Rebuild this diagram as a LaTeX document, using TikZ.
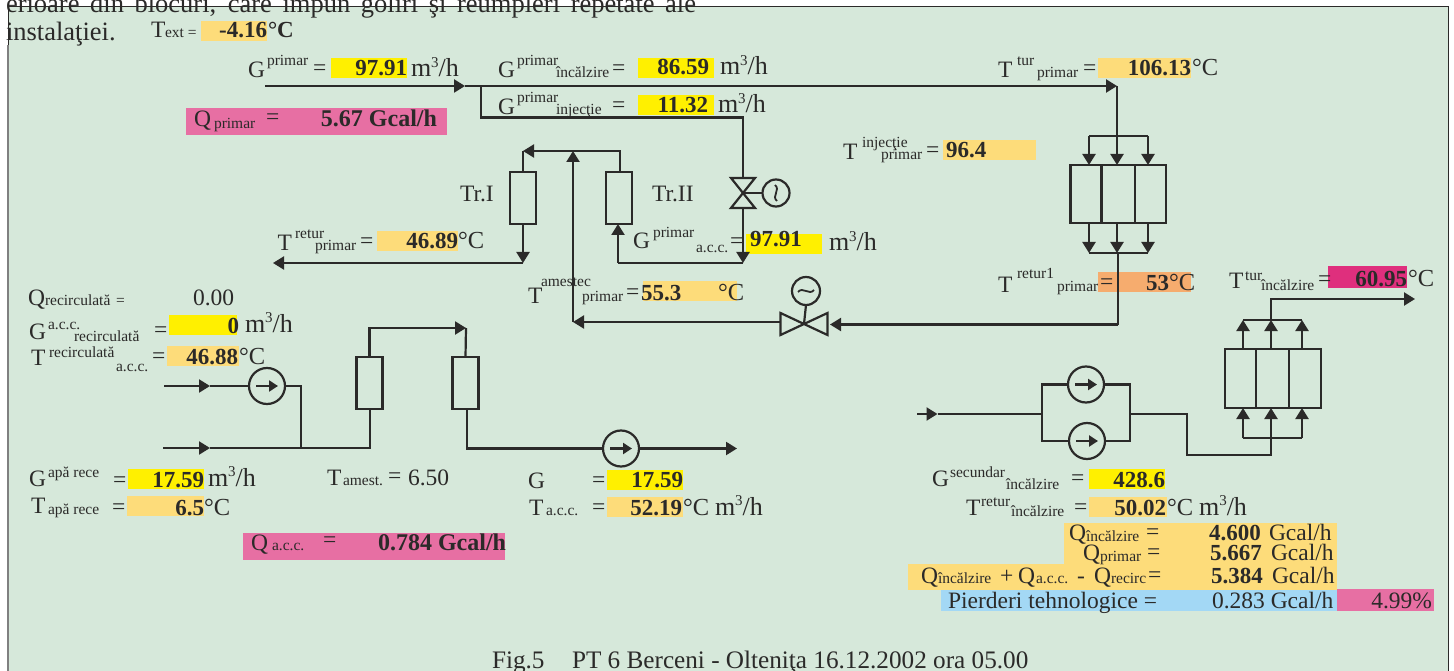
\documentclass[tikz,border=0pt]{standalone}
\usepackage{fontspec}
\setmainfont{Liberation Serif}
\usetikzlibrary{arrows.meta,calc}
\definecolor{bgg}{HTML}{D6E8DA}
\definecolor{ink}{HTML}{2B2A29}
\definecolor{yel}{HTML}{FFF000}
\definecolor{ora}{HTML}{FDDC7A}
\definecolor{pnk}{HTML}{E76FA3}
\definecolor{mag}{HTML}{DF2F7D}
\definecolor{sal}{HTML}{F6AC6E}
\definecolor{blu}{HTML}{A3D8F5}
\newcount\lc
\newcommand\lbl[4]{\global\advance\lc by 1 \node[#1] (t\the\lc) at (#2,#3) {#4};}
\newcommand\tm[3]{\lbl{tmain}{#1}{#2}{#3}}
\newcommand\ts[3]{\lbl{tsub}{#1}{#2}{#3}}
\newcommand\tv[3]{\lbl{tval}{#1}{#2}{#3}}
\newcommand\tl[3]{\lbl{tvall}{#1}{#2}{#3}}
\newcommand\hl[5]{\fill[#1] (#2,#3) rectangle (#4,#5);}
\newcommand\mch{{\fontsize{26}{28}\selectfont m\raisebox{9.5pt}{\fontsize{15}{15}\selectfont 3}/h}}
\newcommand\dg{{\fontsize{24.5}{26}\selectfont °C}}
\tikzset{
  lab/.style={inner sep=0pt,outer sep=0pt,text=ink},
  tmain/.style={lab,anchor=base west,font=\fontsize{23.5}{26}\selectfont},
  tsub/.style={lab,anchor=base west,font=\fontsize{15.5}{18}\selectfont},
  tval/.style={lab,anchor=base east,font=\fontsize{23}{26}\selectfont\bfseries},
  tvall/.style={lab,anchor=base west,font=\fontsize{23}{26}\selectfont\bfseries},
  pipe/.style={draw=ink,line width=2.2pt},
  arr/.style={pipe,-{Triangle[length=11pt,width=13pt]}},
  cell/.style={draw=ink,line width=2.2pt,inner sep=0pt,outer sep=0pt},
  pump/.style={circle,draw=ink,line width=2.2pt,inner sep=0pt,outer sep=0pt,minimum size=36pt},
  dial/.style={circle,draw=ink,line width=2.2pt,inner sep=0pt,outer sep=0pt,minimum size=27pt},
  gate/.style={inner sep=0pt,outer sep=0pt},
  inarrow/.style={draw=ink,line width=2.2pt,-{Triangle[length=9pt,width=11pt]}}
}
\begin{document}
\begin{tikzpicture}[x=1pt,y=-1pt]
\useasboundingbox (0,0) rectangle (1454,671);
% background and frame
\fill[bgg] (8,7) rectangle (1448,671);
\draw[draw=ink,line width=1pt] (8,671) -- (8,6.5) -- (1448,6.5) -- (1448,671);
\draw[draw=gray,line width=1.2pt] (8,45) -- (8,671);
% highlights
\hl{ora}{201}{21}{267}{41}
\hl{yel}{331}{58}{407}{78}
\hl{pnk}{186}{108}{447}{135}
\hl{yel}{638}{58}{714}{78}
\hl{yel}{638}{95}{714}{115}
\hl{ora}{943}{140}{1036}{160}
\hl{ora}{1098}{58}{1191}{78}
\hl{sal}{1098}{272}{1191}{292}
\hl{mag}{1328}{266}{1407}{288}
\hl{ora}{377}{231}{458}{251}
\hl{yel}{746}{234}{822}{254}
\hl{ora}{643}{281}{737}{301}
\hl{yel}{169}{315}{237}{335}
\hl{ora}{167}{346}{239}{366}
\hl{yel}{128}{469}{204}{489}
\hl{ora}{127}{496}{204}{516}
\hl{pnk}{243}{533}{505}{560}
\hl{yel}{607}{470}{683}{490}
\hl{ora}{607}{497}{683}{517}
\hl{yel}{1089}{469}{1165}{489}
\hl{ora}{1089}{497}{1167}{517}
\hl{ora}{1064}{523}{1337}{564}
\hl{ora}{908}{564}{1337}{590}
\hl{blu}{941}{590}{1337}{611}
\hl{pnk}{1337}{589}{1434}{611}
% components
\node[cell,minimum width=26pt,minimum height=52pt] (trI) at (523,198) {};
\node[cell,minimum width=26pt,minimum height=52pt] (trII) at (619,198) {};
\node[cell,minimum width=26pt,minimum height=52pt] (sa) at (369.5,383) {};
\node[cell,minimum width=26pt,minimum height=52pt] (sb) at (465.5,383) {};
\node[cell,minimum width=31pt,minimum height=58pt] (ha) at (1086,194) {};
\node[cell,minimum width=33.4pt,minimum height=58pt] (hb) at (1118.3,194) {};
\node[cell,minimum width=31pt,minimum height=58pt] (hc) at (1150.5,194) {};
\node[cell,minimum width=31pt,minimum height=59pt] (ka) at (1240.5,378.5) {};
\node[cell,minimum width=33pt,minimum height=59pt] (kb) at (1272.5,378.5) {};
\node[cell,minimum width=31.6pt,minimum height=59pt] (kc) at (1304.8,378.5) {};
\node[pump] (p1) at (267,386) {};
\node[pump] (p2) at (621,448.5) {};
\node[pump] (p3) at (1086,384.5) {};
\node[pump] (p4) at (1087,441) {};
\foreach \p in {p1,p2,p3,p4}{\draw[inarrow] ($(\p)+(-11,0)$) -- ($(\p)+(11,0)$);}
\node[gate,minimum width=24pt,minimum height=30pt] (v1) at (743,193) {};
\draw[pipe] (v1.north west) -- (v1.north east) -- (v1.south west) -- (v1.south east) -- cycle;
\node[dial] (d1) at (776,193) {};
\draw[pipe] (v1.center) -- (d1.west);
\draw[draw=ink,line width=1.8pt] ($(d1)+(-1,-8)$) .. controls ($(d1)+(5,-3)$) and ($(d1)+(-5,3)$) .. ($(d1)+(1,8)$);
\node[gate,minimum width=47pt,minimum height=22pt] (v2) at (804,324) {};
\draw[pipe] (v2.north west) -- (v2.south east) -- (v2.north east) -- (v2.south west) -- cycle;
\node[dial,minimum size=28pt] (d2) at (806,291) {};
\draw[pipe] (d2.south) -- (v2.center);
\draw[draw=ink,line width=1.8pt] ($(d2)+(-8,1)$) .. controls ($(d2)+(-3,-5)$) and ($(d2)+(3,5)$) .. ($(d2)+(8,-1)$);
% junction coordinates
\coordinate (in1) at (265,86);
\coordinate (m1) at (465,86);
\coordinate (j1) at (481,86);
\coordinate (tt) at (1117,86);
\coordinate (j2) at (481,117.5);
\coordinate (c1) at (743,117.5);
\coordinate (c2) at (743,263);
\coordinate (c3) at (618,263);
\coordinate (c4) at (620,151);
\coordinate (c5) at (573,151);
\coordinate (c6) at (523,151);
\coordinate (c7) at (523,263);
\coordinate (c8) at (273,263);
\coordinate (c9) at (573,322);
\coordinate (b1) at (1117,136);
\coordinate (b1l) at (1089,136);
\coordinate (b1r) at (1148,136);
\coordinate (r1) at (1118,253);
\coordinate (r1l) at (1089,253);
\coordinate (r1r) at (1148,253);
\coordinate (r2) at (1118,324.5);
\coordinate (r3) at (830,324.5);
\coordinate (k1) at (1271,320);
\coordinate (k1l) at (1243,320);
\coordinate (k1r) at (1302,320);
\coordinate (k2) at (1271,299);
\coordinate (k3) at (1415,299);
\coordinate (q1) at (1271,438);
\coordinate (q1l) at (1243,438);
\coordinate (q1r) at (1302,438);
\coordinate (q2) at (1271,455);
\coordinate (q3) at (1187,455);
\coordinate (q4) at (1187,414);
\coordinate (q5) at (1130,414);
\coordinate (w0) at (917,414);
\coordinate (w1) at (937.5,414);
\coordinate (w2) at (1042,414);
\coordinate (w3) at (1042,384.5);
\coordinate (w4) at (1042,441);
\coordinate (w5) at (1130,384.5);
\coordinate (w6) at (1130,441);
\coordinate (l0) at (164,386);
\coordinate (l1) at (210,386);
\coordinate (l2) at (301,386);
\coordinate (l3) at (301,448);
\coordinate (l4) at (163,448);
\coordinate (l5) at (210,448);
\coordinate (l6) at (370,448);
\coordinate (l7) at (369.5,328);
\coordinate (l8) at (466,328);
\coordinate (l9) at (467,448.5);
\coordinate (l10) at (737,448.5);
% primary connectors
\draw[arr] (in1) -- (m1);
\draw[pipe] (m1) -- (j1);
\draw[arr] (j1) -- (tt);
\draw[pipe] (j1) -- (j2) -- (c1) -- (v1.north);
\draw[pipe] (tt) -- (b1);
\draw[pipe] (b1l) -- (b1r);
\draw[arr] (b1l) -- (b1l |- ha.north);
\draw[arr] (b1) -- (b1 |- hb.north);
\draw[arr] (b1r) -- (b1r |- hc.north);
\draw[arr] (b1l |- ha.south) -- (r1l);
\draw[arr] (b1 |- hb.south) -- (b1 |- r1);
\draw[arr] (b1r |- hc.south) -- (r1r);
\draw[pipe] (r1l) -- (r1r);
\draw[pipe] (r1) -- (r2);
\draw[arr] (r2) -- (r3);
\draw[arr] (v2.west |- c9) -- (c9);
\draw[arr] (c9) -- (c5);
\draw[arr] (v1.south) -- (c2);
\draw[pipe] (c2) -- (c3);
\draw[arr] (c3) -- (c3 |- trII.south);
\draw[arr] (c4 |- trII.north) -- (c4) -- (c6);
\draw[pipe] (c6) -- (trI.north);
\draw[arr] (trI.south) -- (c7);
\draw[arr] (c7) -- (c8);
% secondary connectors
\draw[arr] (k1) -- (k2) -- (k3);
\draw[pipe] (k1l) -- (k1r);
\draw[arr] (k1l |- ka.north) -- (k1l);
\draw[arr] (k1 |- kb.north) -- (k1);
\draw[arr] (k1r |- kc.north) -- (k1r);
\draw[arr] (q1l) -- (q1l |- ka.south);
\draw[arr] (q1) -- (q1 |- kb.south);
\draw[arr] (q1r) -- (q1r |- kc.south);
\draw[pipe] (q1l) -- (q1r);
\draw[pipe] (q5) -- (q4) -- (q3) -- (q2) -- (q1);
\draw[arr] (w0) -- (w1);
\draw[pipe] (w1) -- (w2);
\draw[pipe] (p3.west) -- (w3) -- (w4) -- (p4.west);
\draw[pipe] (p3.east) -- (w5) -- (w6) -- (p4.east);
% left connectors
\draw[arr] (l0) -- (l1);
\draw[pipe] (l1) -- (p1.west);
\draw[pipe] (p1.east) -- (l2) -- (l3);
\draw[arr] (l4) -- (l5);
\draw[pipe] (l5) -- (l6) -- (l6 |- sa.south);
\draw[arr] (sa.north) -- (l7) -- (l8);
\draw[pipe] (l8) -- (sb.north);
\draw[pipe] (sb.south -| l9) -- (l9) -- (p2.west);
\draw[arr] (p2.east) -- (l10);
% labels
\node[lab,anchor=base west,font=\fontsize{26.5}{30}\selectfont] (top1) at (6,12.5) {\makebox[690pt][s]{erioare din blocuri, care impun goliri şi reumpleri repetate ale}};
\node[lab,anchor=base west,font=\fontsize{26.5}{30}\selectfont] (top2) at (6,41) {instalaţiei.};
\tm{151}{38}{T}\ts{165}{38}{ext =}\tv{267}{38}{-4.16}\tl{268}{38}{°C}
\tm{248}{78}{G}\ts{267}{66}{primar}\tm{313}{76}{=}\tv{407}{76}{97.91}\tm{411}{77}{\mch}
\tm{194}{127}{Q}\ts{214}{129}{primar}\tm{266}{125}{=}\lbl{tval,font=\fontsize{24}{26}\selectfont\bfseries}{437}{127}{5.67 Gcal/h}
\tm{498}{78}{G}\ts{517}{66}{primar}\ts{556}{78}{încălzire}\tm{612}{76}{=}\tv{709}{75}{86.59}\tm{720}{75}{\mch}
\tm{498}{115}{G}\ts{517}{103}{primar}\ts{556}{115}{injecţie}\tm{612}{113}{=}\tv{708}{113}{11.32}\tm{718}{113}{\mch}
\tm{843}{160}{T}\ts{862}{148}{injecţie}\ts{881}{160}{primar}\tm{926}{158}{=}\tl{946}{158}{96.4}
\tm{460}{202}{Tr.I}\tm{652}{202}{Tr.II}
\tm{633}{249}{G}\ts{653}{237}{primar}\ts{696}{253}{a.c.c.}\tm{730}{248}{=}\tl{750}{247}{97.91}\tm{829}{251}{\mch}
\tm{528}{303}{T}\ts{541}{287}{amestec}\ts{582}{301}{primar}\tm{626}{299}{=}\tl{641}{300}{55.3}\tm{718}{300}{\dg}
\tm{277.5}{251}{T}\ts{295}{239}{retur}\ts{315}{251}{primar}\tm{360}{249}{=}\tv{458}{249}{46.89}\tm{458}{249}{\dg}
\tm{998}{78}{T}\ts{1017}{66}{tur}\ts{1037}{78}{primar}\tm{1083}{76}{=}\tv{1191}{76}{106.13}\tm{1192}{76}{\dg}
\tm{998}{292}{T}\ts{1017}{279}{retur1}\ts{1057}{291}{primar}\tm{1100}{289}{=}\tv{1169}{290}{53}\tm{1169}{290}{\dg}
\tm{1229}{288}{T}\ts{1245}{280}{tur}\ts{1261}{290}{încălzire}\tm{1318}{286}{=}\tv{1407}{286}{60.95}\tm{1408}{286}{\dg}
\tm{28}{305}{Q}\ts{45}{305}{recirculată}\ts{116}{305}{=}\tm{193}{305}{0.00}
\tm{29}{339}{G}\ts{48}{329}{a.c.c.}\ts{74}{341}{recirculată}\tm{154}{337}{=}\tv{239}{333}{0}\tm{245}{332}{\mch}
\tm{31}{365}{T}\ts{49}{357}{recirculată}\ts{116}{371}{a.c.c.}\tm{152}{363}{=}\tv{238}{364}{46.88}\tm{239}{364}{\dg}
\tm{29}{486}{G}\ts{48}{477}{apă rece}\tm{113}{487}{=}\tv{204}{487}{17.59}\tm{208}{486}{\mch}
\tm{31}{513}{T}\ts{48}{514}{apă rece}\tm{112}{514}{=}\tv{204}{515}{6.5}\tm{204}{515}{\dg}
\tm{327}{485}{T}\ts{343}{485}{amest.}\tm{388}{483}{=}\tm{408}{485}{6.50}
\tm{251}{550}{Q}\ts{272}{550}{a.c.c.}\tm{323}{547}{=}\lbl{tval,font=\fontsize{24}{26}\selectfont\bfseries}{506}{550}{0.784 Gcal/h}
\tm{528}{488}{G}\tm{592}{487}{=}\tv{683}{487}{17.59}
\tm{529}{515}{T}\ts{546}{515}{a.c.c.}\tm{592}{514}{=}\tv{682}{515}{52.19}\tm{683}{515}{\dg\ \mch}
\tm{932}{486}{G}\ts{950}{477}{secundar}\ts{1006}{489}{încălzire}\tm{1071}{485}{=}\tv{1165}{487}{428.6}
\tm{966}{515}{T}\ts{981}{506}{retur}\ts{1011}{516}{încălzire}\tm{1074}{514}{=}\tv{1166}{515}{50.02}\tm{1167}{515}{\dg\ \mch}
\tm{1069}{540}{Q}\ts{1086}{541}{încălzire}\tm{1146}{539}{=}\tl{1209}{540}{4.600}\tm{1269}{540}{Gcal/h}
\tm{1083}{560}{Q}\ts{1100}{561}{primar}\tm{1147}{559}{=}\tl{1210}{560}{5.667}\tm{1271}{560}{Gcal/h}
\tm{921}{583}{Q}\ts{938}{583}{încălzire}\tm{1000}{583}{+}\tm{1018}{583}{Q}\ts{1036}{583}{a.c.c.}\tm{1077}{583}{-}\tm{1094}{583}{Q}\ts{1111}{583}{recirc}\tm{1148}{582}{=}\tl{1211}{583}{5.384}\tm{1272}{583}{Gcal/h}
\tm{948}{608}{Pierderi tehnologice =}\tm{1212}{608}{0.283 Gcal/h}\lbl{tmain,anchor=base east}{1432}{608}{4.99\%}
\lbl{tmain,font=\fontsize{25.2}{28}\selectfont}{492}{668}{Fig.5\hspace{27.5pt}PT 6 Berceni - Olteniţa 16.12.2002 ora 05.00}
\end{tikzpicture}
\end{document}
